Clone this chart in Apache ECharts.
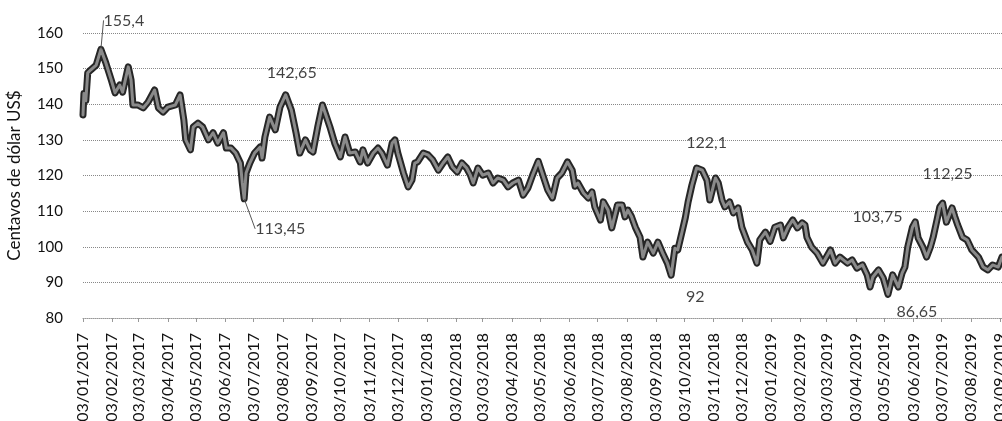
<!DOCTYPE html>
<html>
<head>
<meta charset="utf-8">
<script src="https://cdn.jsdelivr.net/npm/echarts@6/dist/echarts.min.js"></script>
<style>
  html, body { margin: 0; padding: 0; background: #fff; }
  #chart { width: 1002px; height: 421px; }
</style>
</head>
<body>
<div id="chart"></div>
<script>
// month ticks (dd/mm/yyyy)
var tickLabels = [
  '03/01/2017','03/02/2017','03/03/2017','03/04/2017','03/05/2017','03/06/2017',
  '03/07/2017','03/08/2017','03/09/2017','03/10/2017','03/11/2017','03/12/2017',
  '03/01/2018','03/02/2018','03/03/2018','03/04/2018','03/05/2018','03/06/2018',
  '03/07/2018','03/08/2018','03/09/2018','03/10/2018','03/11/2018','03/12/2018',
  '03/01/2019','03/02/2019','03/03/2019','03/04/2019','03/05/2019','03/06/2019',
  '03/07/2019','03/08/2019','03/09/2019'
];

// days since 03/01/2017
var days = [
  0,1,3,5,8,14,19,24,30,34,39,42,48,51,53,58,64,69,76,80,85,90,98,103,105,107,109,
  114,117,122,127,133,138,143,149,152,157,162,167,169,171,173,177,182,188,190,193,
  198,204,209,215,221,226,230,236,241,244,249,254,257,262,267,273,278,283,289,294,
  297,302,308,313,317,323,328,331,334,340,345,349,352,355,361,366,371,377,382,387,
  392,397,402,407,411,414,419,424,430,435,440,446,451,456,462,467,472,477,483,488,
  493,498,503,508,514,519,522,525,531,536,540,543,549,552,557,561,567,572,575,578,
  582,586,591,594,599,605,610,615,620,624,628,631,636,639,642,646,651,657,662,665,
  671,674,678,681,686,690,695,699,705,710,715,718,724,729,734,740,743,748,753,758,
  763,766,768,773,779,785,793,798,803,811,816,821,827,832,835,838,844,849,854,859,
  865,869,872,875,880,883,886,891,895,899,902,906,909,912,916,922,925,928,933,938,
  943,950,955,960,965,971,975
];

// price, centavos de dólar US$
var prices = [
  137,143,141,148.8,149.6,151,155.4,151.8,146.8,143.2,145.4,143.4,150.5,146.8,139.8,
  139.8,139,140.6,144,139,137.8,139.2,139.8,142.6,143,135.6,130,127.2,133.6,134.7,
  133.6,130,132,129.1,132,127.7,127.7,126.3,123.5,117.9,113.45,120.7,123.5,126.3,128,
  124.9,130.8,136.4,132.8,139.2,142.65,138.4,132,126.3,130,127.2,126.6,133.6,139.8,
  137.5,133.6,129.1,125.2,130.8,126.3,126.6,123.8,127.2,123.5,126.3,127.7,126.3,122.9,
  129.1,130,126.3,120.7,116.8,118.7,123.5,123.8,126.3,125.8,124.4,121.5,123.5,125.2,
  122.4,121,123.5,122.1,120.1,117.9,122.1,120.1,120.7,117.9,119.3,118.7,116.8,117.9,
  118.7,114.5,116.5,120.1,124,120,116,113.7,119.3,120.7,123.8,121.5,117,117.9,115.1,
  113.7,115.4,111.2,107.5,112.6,110.3,105.3,111.7,111.7,108.4,110.3,108.4,105.5,102.7,
  97.1,101.3,98.2,101.3,98.2,95.4,92,99.6,99.1,104.7,108.1,112.6,117.3,122.1,121.5,
  118.7,113.1,119.3,117.9,113.1,111.2,112.6,109.5,110.9,105.5,101.3,99.1,95.4,101.9,
  104.1,101.5,105.5,106.1,102.5,105.5,107.5,105.3,106.7,106.1,102.7,99.9,98.2,95.4,
  99.1,95.4,97.1,95.4,96.3,94,94.9,92.1,88.7,91.5,93.5,91.2,86.65,92.1,88.7,92.6,94.3,
  99.9,105.5,107,102.5,99.9,97.1,99.9,102.7,107.5,111.2,112.25,106.9,110.9,108.4,106.1,
  102.7,101.9,99.1,97.1,94.3,93.5,94.9,94.3,97.1
];

// data labels on the chart
var noteDays = [19, 215, 171, 651, 624, 880, 912, 854];
var noteValues = [155.4, 142.65, 113.45, 122.1, 92, 103.75, 112.25, 86.65];
var noteTexts = ['155,4', '142,65', '113,45', '122,1', '92', '103,75', '112,25', '86,65'];

// label shift in px and whether a leader line is drawn
var noteShift = [[23, -29], [6, -22], [36, 30], [10, -25], [24, 22], [-35, -17], [5, -29], [29, 18]];
var noteLeader = [true, false, true, false, false, false, false, false];

function dayOf(s) {
  var p = s.split('/');
  return Math.round((Date.UTC(+p[2], +p[1] - 1, +p[0]) - Date.UTC(2017, 0, 3)) / 864e5);
}
var tickDays = tickLabels.map(dayOf);
var labelByDay = {};
tickDays.forEach(function (d, i) { labelByDay[d] = tickLabels[i]; });

var lineData = days.map(function (d, i) { return [d, prices[i]]; });
var noteData = noteDays.map(function (d, i) {
  return {
    value: [d, noteValues[i]],
    name: noteTexts[i],
    labelLine: { show: noteLeader[i] }
  };
});

var font = 'Lato, "Open Sans", sans-serif';

var option = {
  animation: false,
  grid: { left: 83, right: 0, top: 33, bottom: 103, outerBoundsMode: 'none' },
  xAxis: {
    type: 'value',
    min: 0,
    max: 975,
    axisLine: { show: true, lineStyle: { color: '#999', type: 'dotted' } },
    axisTick: {
      show: true, customValues: tickDays, length: 4,
      lineStyle: { color: '#999' }
    },
    splitLine: { show: false },
    axisLabel: {
      customValues: tickDays,
      rotate: 90,
      margin: 15,
      color: '#111',
      fontSize: 16,
      fontFamily: font,
      formatter: function (v) { return labelByDay[Math.round(v)] || ''; }
    }
  },
  yAxis: {
    type: 'value',
    min: 80,
    max: 160,
    interval: 10,
    name: 'Centavos de dólar US$',
    nameLocation: 'middle',
    nameGap: 60,
    nameTextStyle: { color: '#111', fontSize: 17, fontFamily: font },
    axisLine: { show: false },
    axisTick: { show: false },
    axisLabel: { color: '#111', fontSize: 15, fontFamily: font, margin: 20 },
    splitLine: { lineStyle: { color: '#888', type: 'dotted', width: 1 } }
  },
  series: [
    {
      type: 'line',
      data: lineData,
      symbol: 'none',
      lineStyle: { color: '#262626', width: 7, join: 'round', cap: 'round' },
      z: 2
    },
    {
      type: 'line',
      data: lineData,
      symbol: 'none',
      lineStyle: { color: '#8a8a8a', width: 3, join: 'round', cap: 'round' },
      z: 3
    },
    {
      type: 'scatter',
      data: noteData,
      symbolSize: 0,
      z: 5,
      label: {
        show: true,
        position: 'inside',
        formatter: '{b}',
        color: '#111',
        fontSize: 16,
        fontFamily: font
      },
      labelLine: { show: false, lineStyle: { color: '#555', width: 1 } },
      labelLayout: function (p) {
        return { dx: noteShift[p.dataIndex][0], dy: noteShift[p.dataIndex][1] };
      }
    }
  ]
};

var myChart = echarts.init(document.getElementById('chart'));
myChart.setOption(option);
</script>
</body>
</html>
